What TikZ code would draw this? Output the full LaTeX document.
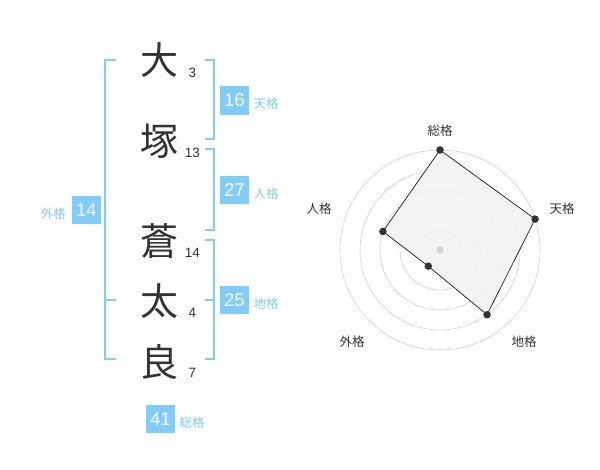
\documentclass[tikz,border=0pt]{standalone}
\usepackage{fontspec}
\usetikzlibrary{calc}
\setmainfont{Liberation Sans}
\newfontfamily\jp{Noto Sans CJK JP}
\definecolor{kakublue}{HTML}{80CDFA}
\definecolor{ink}{HTML}{333333}
\definecolor{ringgray}{HTML}{D2D2D2}
\definecolor{areagray}{HTML}{F1F1F1}

\begin{document}
\begin{tikzpicture}[
					x = 1pt, y = -1pt,
					kanji/.style = {
						inner sep = 0pt,
						text = ink,
						font = \jp\fontsize{38}{38}\selectfont,
					},
					stroke/.style = {
						inner sep = 0pt,
						text = ink,
						font = \fontsize{13.5}{13.5}\selectfont,
					},
					numbox/.style = {
						fill = kakublue,
						text = white,
						inner sep = 0pt,
						minimum width = 28.5pt,
						minimum height = 28.5pt,
						font = \fontsize{18.5}{18.5}\selectfont,
					},
					kakuname/.style = {
						inner sep = 0pt,
						text = kakublue,
						font = \jp\fontsize{12.5}{12.5}\selectfont,
					},
					bracket/.style = {draw = kakublue, line width = 2pt},
					ring/.style = {draw = ringgray, line width = 0.6pt},
					dot/.style = {circle, fill = ink, inner sep = 0pt, minimum size = 7.5pt},
					axis/.style = {inner sep = 0pt, text = ink, font = \jp\fontsize{12.5}{12.5}\selectfont},
			]
				\useasboundingbox[fill = white] (0, 0) rectangle (600, 470);

				% name
				\draw (159, 60) node (k1) [kanji] {大};
				\draw (159, 141) node (k2) [kanji] {塚};
				\draw (159, 241) node (k3) [kanji] {蒼};
				\draw (159, 301) node (k4) [kanji] {太};
				\draw (159, 362) node (k5) [kanji] {良};
				\draw (192.5, 72.7) node (s1) [stroke] {3};
				\draw (192.5, 153.3) node (s2) [stroke] {13};
				\draw (192.5, 252.7) node (s3) [stroke] {14};
				\draw (192.5, 313.3) node (s4) [stroke] {4};
				\draw (192.5, 372.7) node (s5) [stroke] {7};

				% brackets
				\draw[bracket] (116, 60) -- (104.7, 60) -- (104.7, 359.3) -- (116, 359.3);
				\draw[bracket] (104.7, 300) -- (116, 300);
				\draw[bracket] (205, 60) -- (214.3, 60) -- (214.3, 139.3) -- (205, 139.3);
				\draw[bracket] (205, 149.3) -- (214.3, 149.3) -- (214.3, 230) -- (205, 230);
				\draw[bracket] (205, 240) -- (214.3, 240) -- (214.3, 359.3) -- (205, 359.3);
				\draw[bracket] (205, 300) -- (214.3, 300);

				% kaku
				\draw (234.3, 100.5) node (ten) [numbox] {16};
				\draw (234.3, 190) node (jin) [numbox] {27};
				\draw (234.3, 300) node (chi) [numbox] {25};
				\draw (86.5, 210) node (gai) [numbox] {14};
				\draw (160.5, 419) node (sou) [numbox] {41};
				\draw (266, 104) node (tenl) [kakuname] {天格};
				\draw (266, 193.5) node (jinl) [kakuname] {人格};
				\draw (266, 304) node (chil) [kakuname] {地格};
				\draw (53.3, 213.5) node (gail) [kakuname] {外格};
				\draw (192, 422.5) node (soul) [kakuname] {総格};

				% radar
				\coordinate (c) at (440, 250);
				\foreach \r in {20, 40, 60, 80, 100}
					\draw[ring] (c) circle (\r pt);
				\coordinate (psou) at ($(c) + (-90:100)$);
				\coordinate (pten) at ($(c) + (-18:100)$);
				\coordinate (pchi) at ($(c) + (54:80)$);
				\coordinate (pgai) at ($(c) + (126:20)$);
				\coordinate (pjin) at ($(c) + (198:60)$);
				\draw[fill = areagray, fill opacity = 0.85, draw = black, line width = 0.6pt]
					(psou) -- (pten) -- (pchi) -- (pgai) -- (pjin) -- cycle;
				\fill[ringgray] (c) circle (3.5pt);
				\foreach \p in {psou, pten, pchi, pgai, pjin}
					\node[dot] at (\p) {};

				\draw (440, 131) node (asou) [axis] {総格};
				\draw (562, 209) node (aten) [axis] {天格};
				\draw (524, 342) node (achi) [axis] {地格};
				\draw (352, 342) node (agai) [axis] {外格};
				\draw (319, 209) node (ajin) [axis] {人格};
			\end{tikzpicture}
\end{document}
